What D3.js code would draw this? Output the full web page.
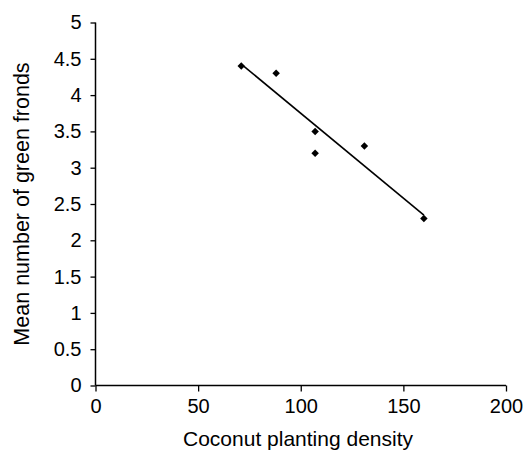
<!DOCTYPE html>
<html>
<head>
<meta charset="utf-8">
<script src="https://cdn.jsdelivr.net/npm/d3@7"></script>
<style>
  html, body { margin: 0; padding: 0; background: #fff; }
  svg { display: block; }
  text { font-family: "Liberation Sans", Arial, sans-serif; fill: #000; }
</style>
</head>
<body>
<svg id="chart" width="525" height="459"></svg>
<script>
// Data
const densities = [71, 88, 107, 107, 131, 160];
const fronds = [4.4, 4.3, 3.5, 3.2, 3.3, 2.3];
const xTicks = [0, 50, 100, 150, 200];
const yTicks = [0, 0.5, 1, 1.5, 2, 2.5, 3, 3.5, 4, 4.5, 5];
const xTitle = "Coconut planting density";
const yTitle = "Mean number of green fronds";

const svg = d3.select("#chart");
const x = d3.scaleLinear().domain([0, 200]).range([95.5, 506]);
const y = d3.scaleLinear().domain([0, 5]).range([385.5, 22.5]);

// Axes
const xAxis = d3.axisBottom(x).tickValues(xTicks).tickSize(6).tickPadding(7).tickFormat(d => String(d));
const yAxis = d3.axisLeft(y).tickValues(yTicks).tickSize(5).tickPadding(9).tickFormat(d => String(d));

const gx = svg.append("g").attr("transform", `translate(0,${y(0)})`).call(xAxis);
const gy = svg.append("g").attr("transform", `translate(${x(0)},0)`).call(yAxis);
[gx, gy].forEach(g => {
  g.select(".domain").attr("stroke", "#000").attr("stroke-width", 1.5);
  g.selectAll(".tick line").attr("stroke", "#000").attr("stroke-width", 1.3);
  g.selectAll(".tick text").attr("font-size", 20).attr("font-family", "Liberation Sans, Arial, sans-serif").attr("fill", "#000");
});
gx.select(".domain").attr("d", `M${x(0)},0H${x(200)}`);
gy.select(".domain").attr("d", `M0,${y(0)}V${y(5)}`);

// Regression trend line
const n = densities.length;
const mx = d3.mean(densities), my = d3.mean(fronds);
let sxy = 0, sxx = 0;
for (let i = 0; i < n; i++) { sxy += (densities[i]-mx)*(fronds[i]-my); sxx += (densities[i]-mx)**2; }
const slope = sxy / sxx, intercept = my - slope * mx;
const [x0, x1] = d3.extent(densities);
svg.append("line")
  .attr("x1", x(x0)).attr("y1", y(intercept + slope * x0))
  .attr("x2", x(x1)).attr("y2", y(intercept + slope * x1))
  .attr("stroke", "#000").attr("stroke-width", 1.6);

// Points (diamonds)
const pts = densities.map((d, i) => ({ x: d, y: fronds[i] }));
svg.append("g").selectAll("path").data(pts).join("path")
  .attr("d", d3.symbol().type(d3.symbolSquare).size(28))
  .attr("transform", d => `translate(${x(d.x)},${y(d.y)}) rotate(45)`)
  .attr("fill", "#000");

// Titles
svg.append("text").attr("x", 298).attr("y", 446).attr("text-anchor", "middle")
  .attr("font-size", 21).text(xTitle);
svg.append("text").attr("transform", `translate(29,204) rotate(-90)`).attr("text-anchor", "middle")
  .attr("font-size", 21.5).text(yTitle);
</script>
</body>
</html>
